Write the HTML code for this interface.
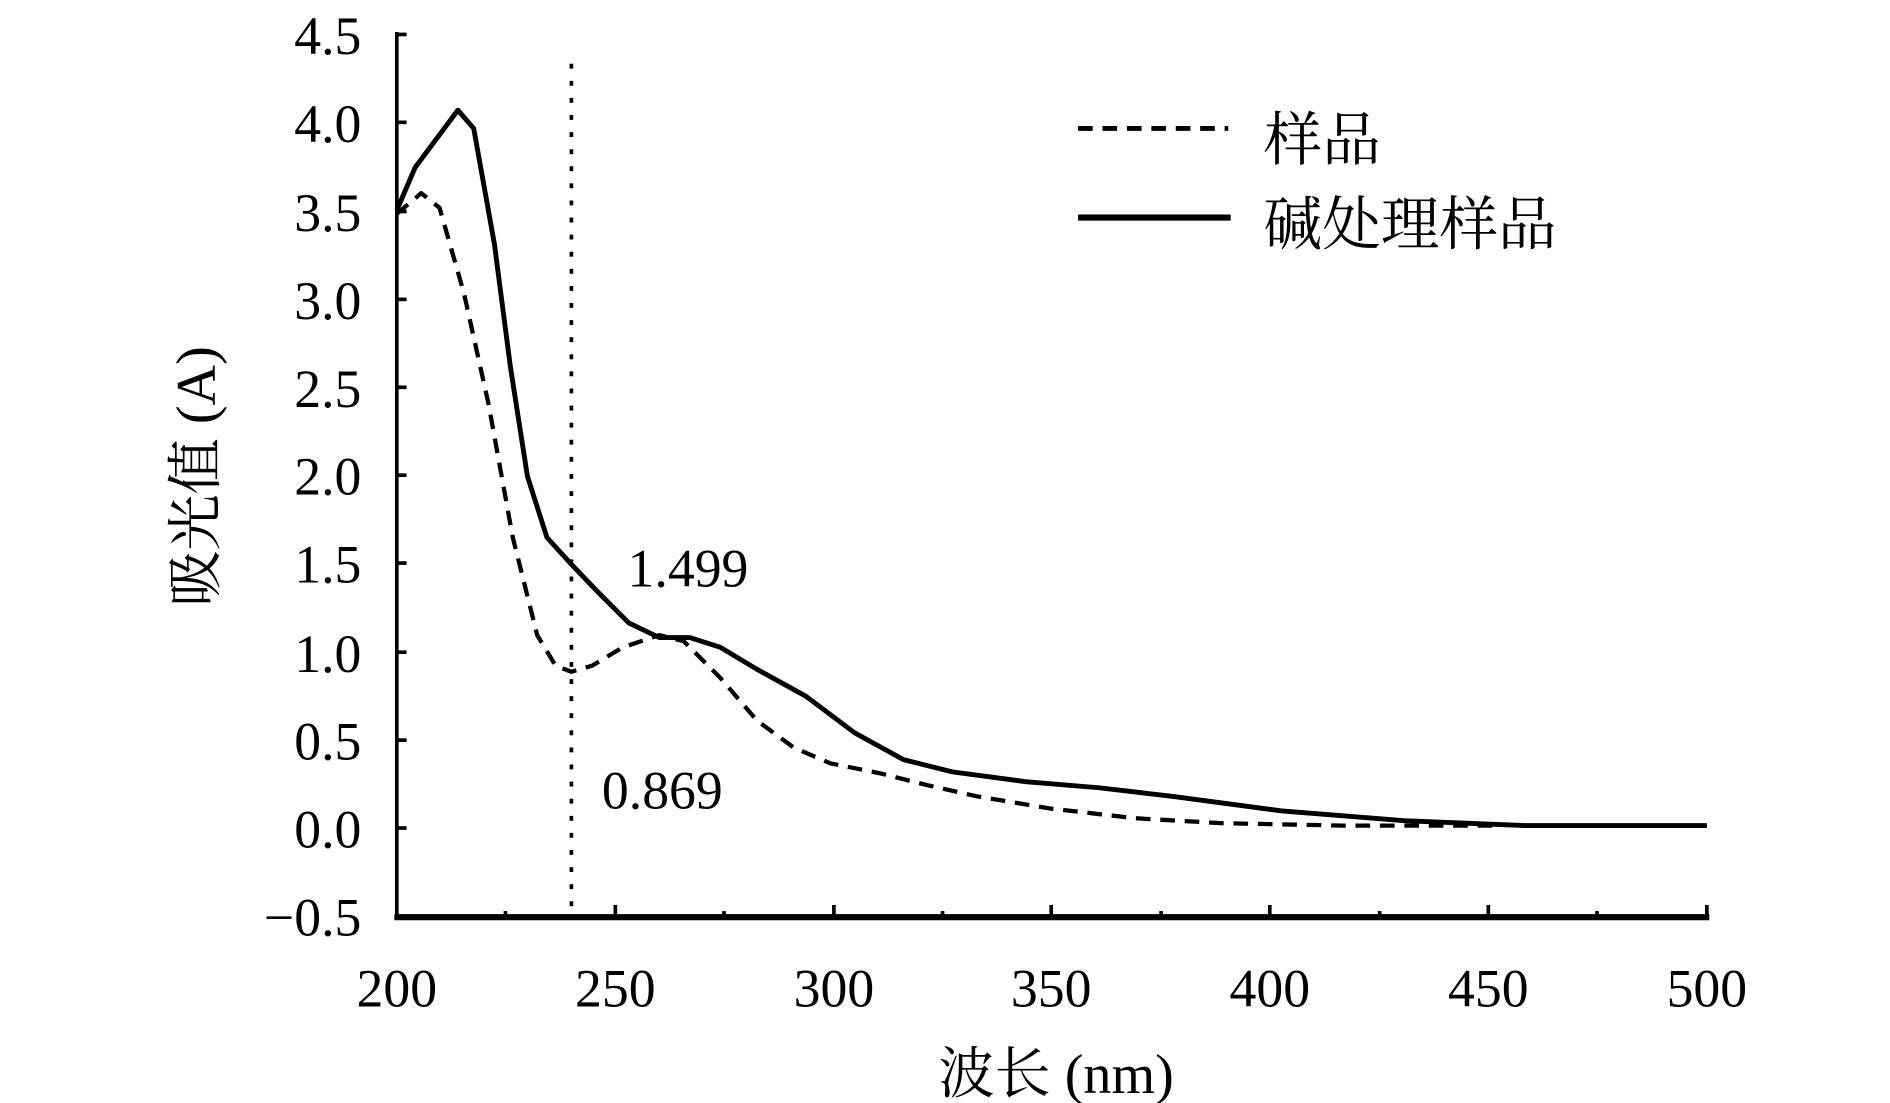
<!DOCTYPE html>
<html><head><meta charset="utf-8"><style>
html,body{margin:0;padding:0;background:#fff;}
svg{display:block;}
text{font-family:"Liberation Serif","Noto Serif CJK SC","Noto Sans CJK SC",serif;fill:#000;}
</style></head><body>
<svg width="1890" height="1103" viewBox="0 0 1548 903" xmlns="http://www.w3.org/2000/svg">
<rect width="1548" height="903" fill="#fff"/>
<!-- axes -->
<line x1="325" y1="26" x2="325" y2="752" stroke="#000" stroke-width="3"/>
<line x1="323" y1="751" x2="1400" y2="751" stroke="#000" stroke-width="5"/>
<g stroke="#000" stroke-width="3">
<line x1="325" y1="28" x2="333" y2="28"/><line x1="325" y1="100" x2="333" y2="100"/><line x1="325" y1="173" x2="333" y2="173"/><line x1="325" y1="245" x2="333" y2="245"/><line x1="325" y1="317" x2="333" y2="317"/><line x1="325" y1="389" x2="333" y2="389"/><line x1="325" y1="461" x2="333" y2="461"/><line x1="325" y1="534" x2="333" y2="534"/><line x1="325" y1="606" x2="333" y2="606"/><line x1="325" y1="678" x2="333" y2="678"/>
<line x1="504" y1="751" x2="504" y2="741"/><line x1="683" y1="751" x2="683" y2="741"/><line x1="861" y1="751" x2="861" y2="741"/><line x1="1040" y1="751" x2="1040" y2="741"/><line x1="1219" y1="751" x2="1219" y2="741"/><line x1="1398" y1="751" x2="1398" y2="741"/>
<line x1="414" y1="751" x2="414" y2="746"/><line x1="593" y1="751" x2="593" y2="746"/><line x1="772" y1="751" x2="772" y2="746"/><line x1="951" y1="751" x2="951" y2="746"/><line x1="1130" y1="751" x2="1130" y2="746"/><line x1="1308" y1="751" x2="1308" y2="746"/>
</g>
<!-- y labels -->
<g font-size="44" text-anchor="end">
<text x="296" y="44">4.5</text><text x="296" y="116">4.0</text><text x="296" y="189">3.5</text><text x="296" y="261">3.0</text><text x="296" y="333">2.5</text><text x="296" y="405">2.0</text><text x="296" y="477">1.5</text><text x="296" y="550">1.0</text><text x="296" y="622">0.5</text><text x="296" y="694">0.0</text><text x="296" y="766">−0.5</text>
</g>
<g font-size="44" text-anchor="middle">
<text x="325" y="824">200</text><text x="504" y="824">250</text><text x="683" y="824">300</text><text x="861" y="824">350</text><text x="1040" y="824">400</text><text x="1219" y="824">450</text><text x="1398" y="824">500</text>
</g>
<text x="865" y="895" font-size="46" text-anchor="middle">波长 (nm)</text>
<text transform="translate(176,390) rotate(-90)" font-size="46" text-anchor="middle">吸光值 (A)</text>
<!-- dotted vertical -->
<line x1="468" y1="52" x2="468" y2="750" stroke="#000" stroke-width="3" stroke-dasharray="4,10"/>
<!-- solid curve -->
<polyline fill="none" stroke="#000" stroke-width="4" stroke-linejoin="round" points="325,172 340,137 375,90 388,105 405,200 418,300 432,390 448,440 468,462 490,485 515,510 540,522 565,522 590,530 620,548 660,570 700,600 740,622 780,632 840,640 900,645 960,652 1050,664 1150,672 1250,676 1398,676"/>
<!-- dashed curve -->
<polyline fill="none" stroke="#000" stroke-width="3.5" stroke-dasharray="12,8" stroke-linejoin="round" points="325,175 345,158 360,170 380,240 400,330 420,440 440,520 455,545 468,550 485,545 510,530 540,520 560,525 590,555 620,590 650,612 680,625 720,633 760,643 800,652 860,662 930,670 1000,674 1100,676 1230,676"/>
<!-- annotations -->
<text x="514" y="480" font-size="44">1.499</text>
<text x="493" y="662" font-size="44">0.869</text>
<!-- legend -->
<line x1="883" y1="105" x2="1006" y2="105" stroke="#000" stroke-width="4" stroke-dasharray="12,8"/>
<line x1="883" y1="178" x2="1008" y2="178" stroke="#000" stroke-width="5"/>
<text x="1035" y="131" font-size="48">样品</text>
<text x="1035" y="200" font-size="48">碱处理样品</text>
</svg>
</body></html>
